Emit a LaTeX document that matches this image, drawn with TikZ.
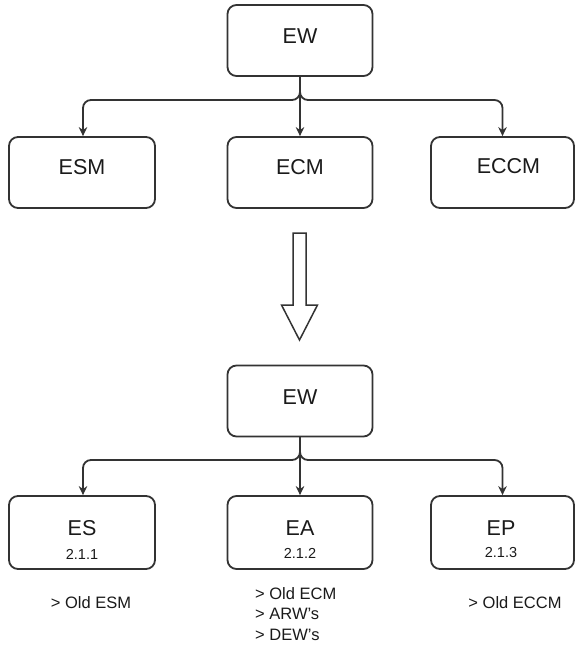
\documentclass[tikz,border=0pt]{standalone}
\usepackage{fontspec}
\setmainfont{Liberation Sans}
\usetikzlibrary{arrows.meta}
\definecolor{edge}{HTML}{333333}
\definecolor{ink}{HTML}{1A1A1A}
\tikzset{
  box/.style={draw=edge, line width=1.8pt, rounded corners=9pt, minimum width=145pt, minimum height=71pt, inner sep=0pt},
  title/.style={text=ink, font=\fontsize{21.5}{24}\selectfont, inner sep=0pt},
  num/.style={text=ink, font=\fontsize{14.5}{16}\selectfont, inner sep=0pt},
  note/.style={text=ink, font=\fontsize{16.5}{20.5}\selectfont, inner sep=0pt, align=left},
  link/.style={draw=edge, line width=1.8pt, rounded corners=8pt, -{Stealth[length=9pt,width=8.5pt]}},
  bigarrow/.style={draw=edge, line width=1.5pt, fill=white, line join=miter}
}
\begin{document}
\begin{tikzpicture}[x=1pt,y=-1pt]
\useasboundingbox (0,0) rectangle (576,645);

% old structure
\node[box] (ew1) at (300,40.5) {};
\node[title] (ew1t) at ([yshift=4pt]ew1.center) {EW};
\node[box, minimum width=146pt] (esm) at (82,172.5) {};
\node[title] (esmt) at ([yshift=5pt]esm.center) {ESM};
\node[box] (ecm) at (300,172.5) {};
\node[title] (ecmt) at ([yshift=5pt]ecm.center) {ECM};
\node[box, minimum width=143pt] (eccm) at (502.5,172.5) {};
\node[title] (eccmt) at ([xshift=6pt,yshift=6pt]eccm.center) {ECCM};

\coordinate (j1) at (300,100);
\draw[link] (ew1.south) -- (j1) -| ([xshift=1pt]esm.north);
\draw[link] (ew1.south) -- (ecm.north);
\draw[link] (ew1.south) -- (j1) -| (eccm.north);

% transition arrow
\draw[bigarrow] (293,233) -- (306,233) -- (306,305) -- (317.5,305)
  -- (299.5,340) -- (281.5,305) -- (293,305) -- cycle;

% new structure
\node[box] (ew2) at (300,401) {};
\node[title] (ew2t) at ([yshift=4pt]ew2.center) {EW};
\node[box, minimum width=146pt, minimum height=73pt] (es) at (82,532.5) {};
\node[title] (est) at (82,528) {ES};
\node[num] (esn) at (82,554) {2.1.1};
\node[box, minimum height=73pt] (ea) at (300,532.5) {};
\node[title] (eat) at (300,528) {EA};
\node[num] (ean) at (300,553) {2.1.2};
\node[box, minimum width=143pt, minimum height=73pt] (ep) at (502.5,532.5) {};
\node[title] (ept) at (501,528) {EP};
\node[num] (epn) at (501,553) {2.1.3};

\coordinate (j2) at (300,460);
\draw[link] (ew2.south) -- (j2) -| ([xshift=1pt]es.north);
\draw[link] (ew2.south) -- (ea.north);
\draw[link] (ew2.south) -- (j2) -| (ep.north);

% notes under the new boxes
\node[note] (esnote) at (91,603) {> Old ESM};
\node[note, anchor=north west] (eanote) at (255,587) {> Old ECM\\> ARW's\\> DEW's};
\node[note] (epnote) at (515,603) {> Old ECCM};
\end{tikzpicture}
\end{document}
